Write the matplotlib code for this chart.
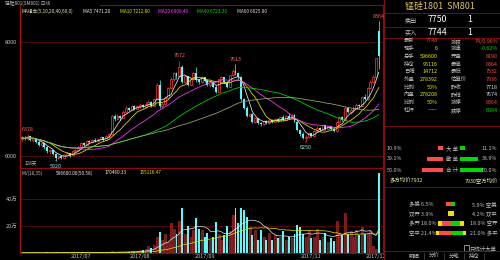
import matplotlib
matplotlib.use('Agg')
import matplotlib.pyplot as plt
from matplotlib.patches import Rectangle
import numpy as np
import pandas as pd

plt.rcParams['font.family'] = ['Noto Sans CJK SC', 'DejaVu Sans']

# daily candles, SM801 (128 days)
opens = [6300, 6320, 6300, 6350, 6280, 6310, 6250, 6200, 6220, 6150,
         6080, 6100, 6030, 5960, 6000, 5970, 6020, 6050, 6010, 6090,
         6110, 6150, 6230, 6200, 6260, 6240, 6290, 6260, 6300, 6330,
         6290, 6350, 6380, 6700, 6650, 6700, 6670, 6780, 6850, 6810,
         6880, 6830, 6870, 6900, 6860, 6920, 6950, 6880, 7000, 7250,
         6880, 6920, 7020, 7200, 7350, 7450, 7400, 7560, 7300, 7400,
         7250, 7350, 7450, 7340, 7300, 7380, 7320, 7250, 7300, 7210,
         7130, 7350, 7380, 7300, 7220, 7420, 7500, 7450, 7380, 7000,
         6850, 6700, 6740, 6600, 6660, 6580, 6560, 6620, 6580, 6640,
         6600, 6650, 6620, 6680, 6640, 6700, 6660, 6720, 6600, 6450,
         6380, 6320, 6340, 6400, 6360, 6440, 6500, 6460, 6540, 6480,
         6520, 6470, 6440, 6600, 6680, 6640, 6840, 6780, 6800, 6850,
         6900, 6880, 7030, 7000, 7200, 7300, 7390, 8190]
highs = [6350, 6360, 6378, 6360, 6330, 6320, 6280, 6240, 6230, 6170,
         6120, 6110, 6050, 6020, 6010, 6040, 6070, 6060, 6100, 6130,
         6170, 6250, 6240, 6280, 6280, 6300, 6310, 6320, 6350, 6340,
         6370, 6400, 6720, 6740, 6730, 6720, 6800, 6870, 6860, 6900,
         6890, 6890, 6930, 6910, 6940, 6980, 6960, 7020, 7280, 7330,
         6950, 7050, 7220, 7380, 7480, 7470, 7672, 7600, 7420, 7410,
         7370, 7470, 7560, 7360, 7400, 7390, 7350, 7320, 7310, 7240,
         7360, 7400, 7390, 7320, 7430, 7520, 7613, 7470, 7400, 7020,
         6880, 6760, 6750, 6680, 6670, 6600, 6640, 6630, 6660, 6650,
         6670, 6660, 6700, 6720, 6710, 6760, 6730, 6730, 6620, 6470,
         6420, 6370, 6420, 6410, 6460, 6520, 6510, 6560, 6550, 6540,
         6530, 6490, 6620, 6700, 6700, 6860, 6850, 6840, 6870, 6930,
         6920, 7050, 7090, 7220, 7340, 7420, 7718, 8364]
lows = [6270, 6290, 6290, 6260, 6250, 6230, 6180, 6160, 6120, 6060,
        6040, 6010, 5920, 5940, 5940, 5960, 6000, 5990, 6000, 6070,
        6090, 6140, 6180, 6190, 6220, 6230, 6240, 6250, 6290, 6270,
        6280, 6320, 6370, 6620, 6630, 6640, 6660, 6760, 6790, 6800,
        6810, 6820, 6850, 6840, 6850, 6900, 6860, 6870, 6990, 6840,
        6850, 6900, 7000, 7180, 7320, 7360, 7390, 7280, 7280, 7230,
        7240, 7330, 7300, 7270, 7290, 7300, 7230, 7220, 7190, 7100,
        7120, 7330, 7280, 7200, 7210, 7400, 7420, 7360, 6960, 6820,
        6680, 6680, 6580, 6580, 6560, 6520, 6550, 6560, 6570, 6580,
        6590, 6600, 6610, 6620, 6630, 6650, 6650, 6590, 6440, 6360,
        6300, 6250, 6320, 6330, 6350, 6420, 6440, 6450, 6460, 6470,
        6450, 6420, 6430, 6580, 6620, 6630, 6760, 6740, 6790, 6830,
        6840, 6870, 6980, 6990, 7180, 7290, 7390, 7532]
closes = [6320, 6300, 6350, 6280, 6310, 6250, 6200, 6220, 6150, 6080,
          6100, 6030, 5960, 6000, 5970, 6020, 6050, 6010, 6090, 6110,
          6150, 6230, 6200, 6260, 6240, 6290, 6260, 6300, 6330, 6290,
          6350, 6380, 6700, 6650, 6700, 6670, 6780, 6850, 6810, 6880,
          6830, 6870, 6900, 6860, 6920, 6950, 6880, 7000, 7250, 6880,
          6920, 7020, 7200, 7350, 7450, 7400, 7560, 7300, 7400, 7250,
          7350, 7450, 7340, 7300, 7380, 7320, 7250, 7300, 7210, 7130,
          7350, 7380, 7300, 7220, 7420, 7500, 7450, 7380, 7000, 6850,
          6700, 6740, 6600, 6660, 6580, 6560, 6620, 6580, 6640, 6600,
          6650, 6620, 6680, 6640, 6700, 6660, 6720, 6600, 6450, 6380,
          6320, 6340, 6400, 6360, 6440, 6500, 6460, 6540, 6480, 6520,
          6470, 6440, 6600, 6680, 6640, 6840, 6780, 6800, 6850, 6900,
          6880, 7030, 7000, 7200, 7300, 7390, 7718, 7748]
# volume in 万手
volumes = [0.2, 0.1, 0.3, 0.2, 0.1, 0.2, 0.3, 0.1, 0.2, 0.4,
           0.2, 0.3, 0.5, 0.2, 0.2, 0.3, 0.2, 0.2, 0.4, 0.3,
           0.3, 0.5, 0.3, 0.4, 0.3, 0.4, 0.3, 0.5, 0.4, 0.3,
           0.5, 0.6, 1.2, 0.8, 0.7, 0.6, 0.9, 1.0, 0.8, 1.2,
           1.0, 1.5, 2.0, 2.5, 3.0, 5.0, 4.0, 6.0, 12.0, 15.5,
           10.0, 14.0, 8.0, 22.0, 18.0, 14.0, 24.0, 33.0, 14.0, 20.0,
           12.0, 17.0, 26.0, 18.0, 17.0, 12.0, 15.0, 10.0, 12.0, 23.0,
           14.0, 10.0, 13.0, 20.0, 16.0, 28.0, 33.0, 22.0, 33.0, 32.0,
           27.0, 19.0, 13.0, 17.0, 10.0, 17.0, 12.0, 10.0, 15.0, 10.0,
           13.0, 11.0, 12.0, 16.0, 10.0, 12.0, 11.0, 14.0, 21.0, 19.0,
           14.0, 12.0, 16.0, 11.0, 12.0, 18.0, 10.0, 12.0, 15.0, 8.0,
           11.0, 9.0, 24.0, 14.0, 13.0, 30.0, 14.0, 16.0, 12.0, 17.0,
           13.0, 19.0, 14.0, 15.0, 16.0, 5.0, 3.0, 59.66]

ma_periods = [5, 10, 20, 40, 60]
ma_colors = ['#e8e8e8', '#e6e600', '#ff3cff', '#00dc00', '#9fae6a']
ma_texts = ['MA5 7471.20', 'MA10 7212.80', 'MA20 6908.40', 'MA40 6723.30', 'MA60 6625.80']
mv_periods = [10, 35]

month_pos = [21, 42, 65, 103, 126]
month_labels = ['2017/07', '2017/08', '2017/09', '2017/11', '2017/12']
high_marks = [2, 56, 76, 127]
low_marks = [12, 101]

# right panel quote
quote_rows = [('最新', '7748', '涨跌', '74/0.96%'),
              ('现手', '6', '涨速', '-0.62%'),
              ('总手', '596600', '开盘', '8190'),
              ('持仓', '95116', '最高', '8364'),
              ('日增', '14712', '最低', '7532'),
              ('外盘', '278392', '估算价', '7936'),
              ('比例', '50%', '昨收', '7718'),
              ('内盘', '278208', '昨结', '7674'),
              ('比例', '50%', '涨停', '8364'),
              ('杠杆', '——', '跌停', '6984')]
left_val_colors = ['#ff4040'] + ['#e6e600'] * 8 + ['#c8c8c8']
right_val_colors = ['#ff4040', '#00d800', '#ff4040', '#ff4040', '#ff4040',
                    '#ff4040', '#d8d8d8', '#d8d8d8', '#ff4040', '#00d800']
order_names = ['大 单', '散 单', '合 计']
buy_pct = [10.9, 39.1, 50.0]
sell_pct = [11.1, 38.9, 50.0]
flow_left = ['多换', '双开', '多开', '空平']
flow_right = ['空换', '双平', '空开', '多平']
flow_lpct = [6.5, 3.9, 18.0, 21.4]
flow_rpct = [5.9, 4.2, 18.0, 21.0]
tabs = ['明细', '分价', '分笔', '持仓']

BG = 'black'
RED = '#ff3c3c'
CYAN = '#54fcfc'
FRAME = '#8a0c0c'
GRID = '#4e0a0a'
GREY = '#c0c0c0'
SMALL = 3.4   # header / legend text inside the chart
ROW = 3.9     # right panel rows

W, H = 500, 260
fig = plt.figure(figsize=(5, 2.6), dpi=100, facecolor=BG)


def box(x0, y0, x1, y1):
    return [x0 / W, 1 - y1 / H, (x1 - x0) / W, (y1 - y0) / H]


ax_p = fig.add_axes(box(20, 5, 383, 168), facecolor=BG)
ax_v = fig.add_axes(box(20, 168, 383, 253), facecolor=BG)

x = np.arange(len(closes))
o, h, l, c = (np.array(a, float) for a in (opens, highs, lows, closes))
up = c >= o

# candles
ax_p.vlines(x[up], l[up], h[up], color=RED, lw=0.5, zorder=2)
ax_p.vlines(x[~up], l[~up], h[~up], color=CYAN, lw=0.5, zorder=2)
ax_p.bar(x[up], c[up] - o[up], 0.7, bottom=o[up], facecolor=BG,
         edgecolor=RED, lw=0.5, zorder=3)
ax_p.bar(x[~up], o[~up] - c[~up], 0.7, bottom=c[~up], color=CYAN, lw=0, zorder=3)

for n, col in zip(ma_periods, ma_colors):
    ma = pd.Series(c).rolling(n, min_periods=1).mean()
    ax_p.plot(x, ma, color=col, lw=0.55, zorder=4)

for i in high_marks:
    ax_p.text(i, highs[i] + 40, str(highs[i]), color='#ff5a5a', fontsize=3.9,
              ha='center', va='bottom', zorder=5)
for i in low_marks:
    ax_p.annotate(str(lows[i]), xy=(i, lows[i]), xytext=(0, -2.2),
                  textcoords='offset points', color='#9fe6e6', fontsize=3.9,
                  ha='center', va='top', zorder=5,
                  arrowprops=dict(arrowstyle='-', color='#9fe6e6', lw=0.4,
                                  shrinkA=0, shrinkB=0))

ax_p.set_xlim(-0.7, 128.5)
ax_p.set_ylim(5790, 8650)
ax_p.set_yticks([6000, 8000])
for yv in [6000, 8000]:
    ax_p.axhline(yv, color=GRID, lw=0.7, zorder=0)
ax_p.set_xticks([])

# volume
v = np.array(volumes)
ax_v.bar(x[up], v[up], 0.7, facecolor='#6a1c1c', edgecolor='#c03030', lw=0.4, zorder=3)
ax_v.bar(x[~up], v[~up], 0.7, color=CYAN, lw=0, zorder=3)
for n, col in zip(mv_periods, ['#e8e8e8', '#e6e600']):
    mv = pd.Series(v).rolling(n, min_periods=1).mean()
    ax_v.plot(x, mv, color=col, lw=0.5, zorder=4)
ax_v.set_xlim(-0.7, 128.5)
ax_v.set_ylim(0, 63)
ax_v.set_yticks([20, 40], ['20万', '40万'])
for yv in [20, 40]:
    ax_v.axhline(yv, color=GRID, lw=0.7, zorder=0)
ax_v.set_xticks(month_pos, month_labels)

for ax in (ax_p, ax_v):
    ax.tick_params(length=0, labelsize=4.0, labelcolor=GREY, pad=2)
    for s in ax.spines.values():
        s.set_color(FRAME)
        s.set_linewidth(0.8)
    ax.spines['top'].set_visible(False)
    ax.spines['left'].set_color('#b01010')
ax_v.spines['top'].set_visible(True)
ax_v.tick_params(axis='x', pad=1)

# overlay in pixel coordinates
ax_o = fig.add_axes([0, 0, 1, 1], zorder=10)
ax_o.set_xlim(0, W)
ax_o.set_ylim(H, 0)
ax_o.axis('off')
ax_o.patch.set_alpha(0)

ax_o.plot([100, 383], [5, 5], color=FRAME, lw=0.8)
ax_o.text(5, 3.0, '锰硅801(SM801) 日线', color=GREY, fontsize=SMALL, va='center')
ax_o.text(22, 11.5, 'MA组合(5,10,20,40,60,0)', color='#e8e0b0', fontsize=SMALL, va='center')
for xx, t, col in zip([83, 120, 158, 197, 237], ma_texts, ma_colors[:4] + ['#d8d8d8']):
    ax_o.text(xx, 11.5, t, color=col, fontsize=SMALL, va='center')
ax_o.text(25, 163, f'{len(closes)}天', color=GREY, fontsize=SMALL, va='center')
ax_o.text(22, 173, 'MV(10,35)', color=GREY, fontsize=SMALL, va='center')
ax_o.text(56, 173, '%.2f(50.58)' % (volumes[-1] * 10000), color='#e8e8e8', fontsize=SMALL, va='center')
ax_o.text(105, 173, '170460.33', color='#e8e8e8', fontsize=SMALL, va='center')
ax_o.text(140, 173, '155116.47', color='#e6e600', fontsize=SMALL, va='center')

# right panel
ax_o.plot([384, 384], [0, H], color=FRAME, lw=0.8)
for yy in [13, 27, 38, 126, 187, 251]:
    ax_o.plot([384, W], [yy, yy], color=FRAME, lw=0.6)
ax_o.text(405, 6.5, '锰硅1801  SM801', color='#e0c060', fontsize=6.5, va='center')
for yy, lab, price in [(20, '卖出', '7750'), (32.5, '买入', '7744')]:
    ax_o.text(405, yy, lab, color=GREY, fontsize=4.4, va='center')
    ax_o.text(447, yy, price, color='white', fontsize=6.3, va='center', ha='right')
    ax_o.text(467, yy, '1', color='white', fontsize=6.3, va='center')
for k, (la, va_, lb, vb) in enumerate(quote_rows):
    yy = 41 + k * 7.7
    ax_o.text(404, yy, la, color=GREY, fontsize=ROW, va='center')
    ax_o.text(438, yy, va_, color=left_val_colors[k], fontsize=ROW, va='center', ha='right')
    ax_o.text(451, yy, lb, color=GREY, fontsize=ROW, va='center')
    ax_o.text(498, yy, vb, color=right_val_colors[k], fontsize=ROW, va='center', ha='right')

for k, name in enumerate(order_names):
    yy = 148 + k * 11
    ax_o.text(387, yy, '%.1f%%' % buy_pct[k], color=GREY, fontsize=ROW, va='center')
    ax_o.text(497, yy, '%.1f%%' % sell_pct[k], color=GREY, fontsize=ROW, va='center', ha='right')
    ax_o.barh(yy, buy_pct[k] * 0.42, left=443 - buy_pct[k] * 0.42, height=4, color='#ff4a4a')
    ax_o.barh(yy, sell_pct[k] * 0.46, left=460, height=4, color='#00d800')
    ax_o.text(451.5, yy, name, color=GREY, fontsize=ROW, va='center', ha='center')
ax_o.text(390, 180, '多方均价7932', color='#e6e6a0', fontsize=ROW, va='center')
ax_o.text(498, 180, '7930空方均价', color='#e6e6a0', fontsize=ROW, va='center', ha='right')

for k in range(4):
    yy = 204 + k * 9.7
    ax_o.text(409, yy, flow_left[k] + ' %.1f%%' % flow_lpct[k], color=GREY, fontsize=ROW, va='center')
    ax_o.text(497, yy, '%.1f%% ' % flow_rpct[k] + flow_right[k], color=GREY, fontsize=ROW,
              va='center', ha='right')
    wl, wr = flow_lpct[k] * 0.72, flow_rpct[k] * 0.72
    if k == 1:
        ax_o.barh(yy, wl + wr, left=451 - wl, height=4.5, color='#f0e000')
    else:
        ax_o.barh(yy, wl, left=451 - wl, height=4.5, color='#ff4a4a')
        ax_o.barh(yy, wr, left=451, height=4.5, color='#00d800')
        if k >= 2:
            ax_o.barh(yy, 3.5, left=451 - wl, height=4.5, color='#f0e000')
            ax_o.barh(yy, 3.5, left=451 + wr - 3.5, height=4.5, color='#f0e000')
ax_o.add_patch(Rectangle((463.5, 245), 5, 5.5, fill=False, edgecolor=GREY, lw=0.5))
ax_o.text(470, 248, '只统计大单', color=GREY, fontsize=ROW, va='center')
for k, t in enumerate(tabs):
    ax_o.text(414 + k * 20, 256, t, color=GREY, fontsize=ROW, va='center', ha='center')
    ax_o.plot([424 + k * 20, 424 + k * 20], [253, 259], color='#505050', lw=0.5)

fig.savefig('out.png', dpi=100, facecolor=BG)
